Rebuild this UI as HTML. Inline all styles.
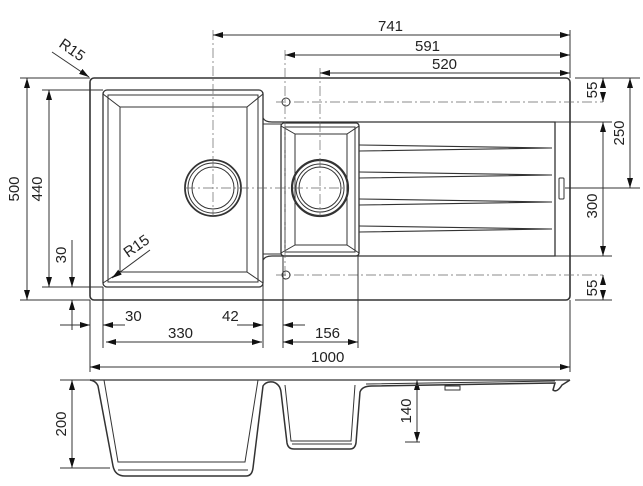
<!DOCTYPE html>
<html><head><meta charset="utf-8"><style>
html,body{margin:0;padding:0;background:#fff;}
svg{display:block;}
text{font-family:"Liberation Sans",sans-serif;font-size:15px;fill:#222;}
</style></head><body>
<svg width="643" height="486" viewBox="0 0 643 486" xmlns="http://www.w3.org/2000/svg">
<defs>
<marker id="a" viewBox="0 0 10 6" refX="10" refY="3" markerWidth="10" markerHeight="6" markerUnits="userSpaceOnUse" orient="auto-start-reverse"><path d="M0,0 L10,3 L0,6 z" fill="#111"/></marker>
</defs>
<g fill="none" stroke="#333" stroke-width="1">
<rect x="90" y="78" width="480" height="222" rx="4" stroke-width="1.6"/>
<rect x="103" y="90" width="160" height="197" rx="4" stroke-width="1.3"/>
<rect x="108" y="95" width="150" height="187"/>
<rect x="120" y="107" width="127" height="165"/>
<path d="M103,94 L120,107 M263,94 L247,107 M103,283 L120,272 M263,283 L247,272"/>
<circle cx="213" cy="188" r="28" stroke-width="1.8"/>
<circle cx="213" cy="188" r="25"/>
<circle cx="213" cy="188" r="21"/>
<path d="M263,118 Q265,122 272,122 L555,122 L555,256 L272,256 Q265,256 263,260" stroke-width="1.3"/>
<path d="M263,124 L281,124 M263,254 L281,254"/>
<rect x="281" y="123" width="78" height="133" rx="3" stroke-width="1.3"/>
<rect x="285" y="127" width="70" height="125"/>
<rect x="295" y="134" width="52" height="111"/>
<path d="M281,126 L295,134 M359,126 L347,134 M281,253 L295,245 M359,253 L347,245"/>
<circle cx="320" cy="188" r="28" stroke-width="2.2"/>
<circle cx="320" cy="188" r="24"/>
<circle cx="320" cy="188" r="21"/>
<path d="M359,145 L552,148 L359,151 M359,172 L552,175 L359,178 M359,199 L552,202 L359,205 M359,226 L552,229 L359,232" stroke-width="1.1"/>
<rect x="559" y="178" width="5" height="21" rx="1"/>
<circle cx="286" cy="102" r="4"/><circle cx="286" cy="275" r="4"/>
<g stroke="#666" stroke-width="0.7" stroke-dasharray="10,3,2,3">
<path d="M213,30 L213,216 M185,188 L343,188 M285,50 L285,280 M320,68 L320,216 M276,102 L603,102 M276,275 L603,275"/>
</g>
<path d="M570,30 L570,78 M570,300 L570,372 M575,78 L640,78 M575,300 L612,300 M555,122 L612,122 M555,256 L612,256 M565,188 L640,188"/>
<path d="M20,78 L90,78 M20,300 L90,300 M42,90 L103,90 M42,287 L103,287"/>
<path d="M90,300 L90,372 M103,287 L103,348 M263,260 L263,348 M283,256 L283,348 M358,256 L358,348 M237,325 L263,325 M283,325 L300,325 M60,325 L90,325 M103,325 L120,325"/>
<g marker-start="url(#a)" marker-end="url(#a)">
<path d="M213,35 L570,35"/><path d="M285,55 L570,55"/><path d="M320,73 L570,73"/>
<path d="M27,78 L27,300"/><path d="M49,90 L49,287"/>
<path d="M630,78 L630,188"/><path d="M603,122 L603,256"/>
<path d="M106,342 L262,342"/><path d="M283,342 L358,342"/>
<path d="M90,367 L570,367"/>
<path d="M72,380 L72,468"/><path d="M417,380 L417,442"/>
</g>
<g marker-end="url(#a)">
<path d="M603,86 L603,78"/><path d="M603,94 L603,102"/>
<path d="M603,283 L603,275"/><path d="M603,292 L603,300"/>
<path d="M72,262 L72,287"/><path d="M72,325 L72,300"/>
<path d="M62,325 L90,325"/><path d="M125,325 L103,325"/>
<path d="M240,325 L263,325"/><path d="M305,325 L283,325"/>
</g>
<path d="M72,240 L72,262 M72,325 L72,330"/>
<path d="M60,468 L110,468 M405,442 L420,442 M60,380 L90,380"/>
<path d="M52,52 L89,77" marker-end="url(#a)"/>
<path d="M150,250 L112,278" marker-end="url(#a)"/>
<path d="M90,380 L570,380" stroke-width="1.3"/>
<path d="M90,380 Q96,381 98,386 L113,466 Q115,476 125,476 L246,476 Q252,476 253,468 L263,386 Q266,381 273,382 Q280,384 281,392 L287,443 Q288,449 294,449 L350,449 Q355,449 356,443 L360,392 Q362,386 372,386 L555,383 L553,390 Q557,393 562,385 L570,380" stroke-width="1.5"/>
<path d="M104,380 L118,462 L245,462 L258,380 M285,385 L291,441 L351,441 L355,385 M366,384 L555,381"/>
<path d="M118,470 L248,470 M292,444 L352,444 M445,386 L460,386 L460,390 L445,390 z"/>
</g>
<text x="378" y="31">741</text>
<text x="415" y="51">591</text>
<text x="432" y="69">520</text>
<text x="125" y="321">30</text>
<text x="222" y="321">42</text>
<text x="168" y="338">330</text>
<text x="315" y="338">156</text>
<text x="311" y="362">1000</text>
<text transform="translate(600,90) rotate(-90)" text-anchor="middle" dy="-3">55</text>
<text transform="translate(600,288) rotate(-90)" text-anchor="middle" dy="-3">55</text>
<text transform="translate(627,133) rotate(-90)" text-anchor="middle" dy="-3">250</text>
<text transform="translate(600,206) rotate(-90)" text-anchor="middle" dy="-3">300</text>
<text transform="translate(22,189) rotate(-90)" text-anchor="middle" dy="-3">500</text>
<text transform="translate(45,189) rotate(-90)" text-anchor="middle" dy="-3">440</text>
<text transform="translate(69,255) rotate(-90)" text-anchor="middle" dy="-3">30</text>
<text transform="translate(69,424) rotate(-90)" text-anchor="middle" dy="-3">200</text>
<text transform="translate(414,411) rotate(-90)" text-anchor="middle" dy="-3">140</text>
<text transform="translate(58,46) rotate(35)">R15</text>
<text transform="translate(128,258) rotate(-35)">R15</text>
</svg>
</body></html>
